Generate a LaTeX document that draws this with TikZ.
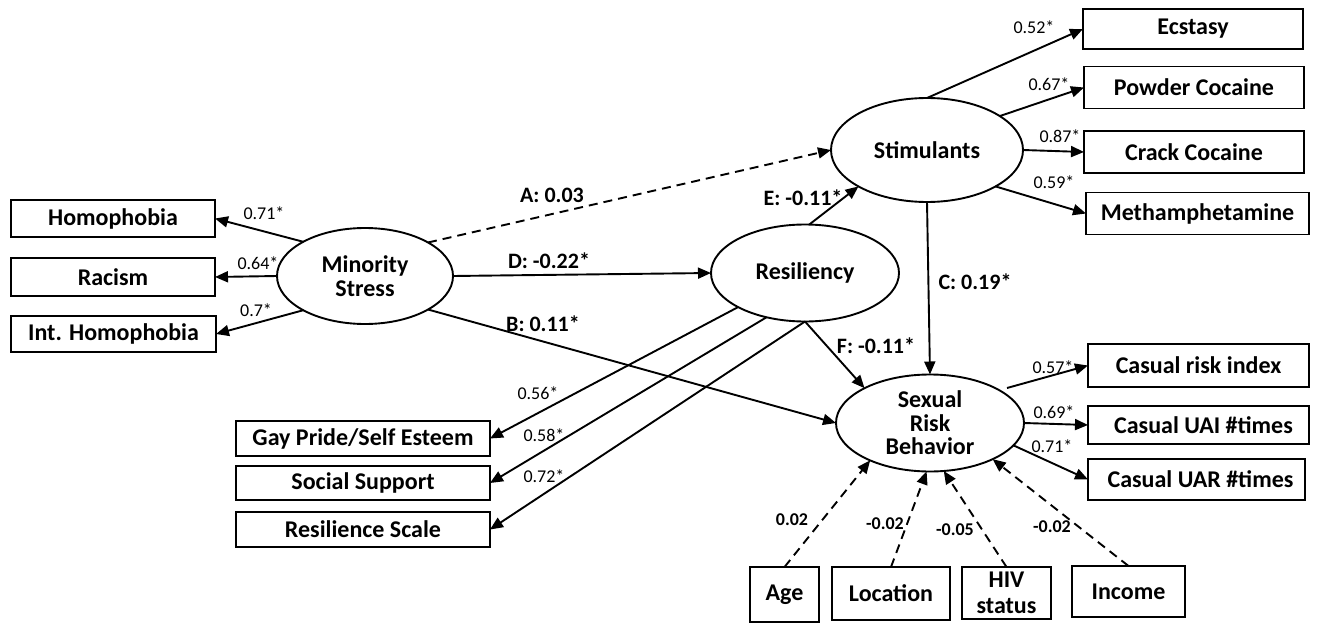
\documentclass[tikz,border=0pt]{standalone}
\usepackage{fontspec}
\setmainfont{Carlito}
\usetikzlibrary{shapes.geometric,arrows.meta}
\begin{document}
\begin{tikzpicture}[x=1pt,y=-1pt,
  every node/.style={inner sep=0pt, outer sep=0pt},
  box/.style={draw, line width=1.9pt, font=\fontsize{24}{25}\selectfont\bfseries, minimum height=38pt, align=center},
  lat/.style={ellipse, draw, line width=1.9pt, font=\fontsize{24}{23.5}\selectfont\bfseries, align=center},
  coef/.style={font=\fontsize{18}{18}\selectfont},
  plab/.style={font=\fontsize{22}{22}\selectfont\bfseries},
  clab/.style={font=\fontsize{18}{18}\selectfont\bfseries},
  arr/.style={line width=1.9pt, -{Triangle[length=13pt,width=11pt]}},
  darr/.style={arr, dash pattern=on 9pt off 6pt},
]
\useasboundingbox (0,0) rectangle (1319,623);

% latent variables
\node[lat, minimum width=176pt, minimum height=96pt] (ms) at (365,276) {Minority\\Stress};
\node[lat, minimum width=192pt, minimum height=104pt] (stim) at (927,150) {Stimulants};
\node[lat, minimum width=188pt, minimum height=97pt] (res) at (805,273) {Resiliency};
\node[lat, minimum width=188pt, minimum height=97pt] (srb) at (930,423) {Sexual\\Risk\\Behavior};

% left indicators
\node[box, minimum width=204pt, minimum height=37pt] (homo) at (113,218.5) {Homophobia};
\node[box, minimum width=204pt] (racism) at (113,277) {Racism};
\node[box, minimum width=205pt, minimum height=36pt] (inthomo) at (113.5,334) {Int. Homophobia};

% stimulant indicators
\node[box, minimum width=220pt, minimum height=40pt] (ecstasy) at (1193,29) {Ecstasy};
\node[box, minimum width=220pt, minimum height=42pt] (powder) at (1194,87.5) {Powder Cocaine};
\node[box, minimum width=220pt, minimum height=42pt] (crack) at (1194,152) {Crack Cocaine};
\node[box, minimum width=223pt, minimum height=42pt] (meth) at (1197.5,213.5) {Methamphetamine};

% resiliency indicators
\node[box, minimum width=254pt, minimum height=35pt] (gay) at (363,438.5) {Gay Pride/Self Esteem};
\node[box, minimum width=254pt, minimum height=34pt] (social) at (363,483) {Social Support};
\node[box, minimum width=254pt, minimum height=35pt] (rscale) at (363,529.5) {Resilience Scale};

% sexual risk indicators
\node[box, minimum width=221pt, minimum height=43pt] (cri) at (1198.5,365.5) {Casual risk index};
\node[box, minimum width=221pt, minimum height=38pt] (uai) at (1198.5,425) {\hspace{10pt}Casual UAI \#times};
\node[box, minimum width=217pt, minimum height=41pt] (uar) at (1196.5,479.5) {\hspace{8pt}Casual UAR \#times};

% covariates
\node[box, minimum width=69pt, minimum height=55pt] (age) at (784.5,594.5) {Age};
\node[box, minimum width=118pt, minimum height=53pt] (loc) at (891,593.5) {Location};
\node[box, minimum width=89pt, minimum height=52pt, font=\fontsize{24}{26}\selectfont\bfseries] (hiv) at (1006.5,593) {HIV\\status};
\node[box, minimum width=113pt, minimum height=51pt] (income) at (1128.5,591.5) {Income};

% minority stress loadings
\draw[arr] (ms.151) -- (homo.east);
\draw[arr] (ms.west) -- (racism.east);
\draw[arr] (ms.209) -- (inthomo.east);
\node[coef] (l1) at (264,213) {0.71*};
\node[coef] (l2) at (258,263) {0.64*};
\node[coef] (l3) at (256,310) {0.7*};

% stimulants loadings
\draw[arr] (stim.north) -- (ecstasy.west);
\draw[arr] (stim.25.6) -- (powder.west);
\draw[arr] (stim.east) -- (crack.west);
\draw[arr] (stim.-28) -- (meth.west);
\node[coef] (l4) at (1034,27) {0.52*};
\node[coef] (l5) at (1049,84) {0.67*};
\node[coef] (l6) at (1060,136) {0.87*};
\node[coef] (l7) at (1054,182) {0.59*};

% resiliency loadings
\draw[arr] (res.207) -- (gay.east);
\draw[arr] (res.229) -- (social.east);
\draw[arr] (res.south) -- (rscale.east);
\node[coef] (l8) at (538,393) {0.56*};
\node[coef] (l9) at (544,435) {0.58*};
\node[coef] (l10) at (544,476) {0.72*};

% sexual risk loadings
\coordinate (criS) at (1007,388);
\draw[arr] (criS) -- (cri.west);
\draw[arr] (srb.east) -- (uai.west);
\draw[arr] (srb.-15) -- (uar.west);
\node[coef] (l11) at (1053,367) {0.57*};
\node[coef] (l12) at (1054,412) {0.69*};
\node[coef] (l13) at (1052,446) {0.71*};

% structural paths
\draw[darr] (ms.28.4) -- (stim.west);
\draw[arr] (ms.east) -- (res.west);
\draw[arr] (ms.-28) -- (srb.west);
\draw[arr] (res.85) -- (stim.208.5);
\draw[arr] (stim.south) -- (srb.north);
\draw[arr] (res.south) -- (srb.152);
\node[plab] (pa) at (552,195) {A: 0.03};
\node[plab] (pd) at (549,261) {D: -0.22*};
\node[plab] (pb) at (543,324) {B: 0.11*};
\node[plab] (pe) at (803,198) {E: -0.11*};
\node[plab] (pc) at (975,282) {C: 0.19*};
\node[plab] (pf) at (876,346) {F: -0.11*};

% covariates
\draw[darr] (age.north) -- (srb.212);
\draw[darr] (loc.north) -- (srb.266);
\draw[darr] (hiv.north) -- (srb.286);
\draw[darr] (income.north) -- (srb.330);
\node[clab] (c1) at (792,520) {0.02};
\node[clab] (c2) at (885,524) {-0.02};
\node[clab] (c3) at (955,530) {-0.05};
\node[clab] (c4) at (1052,527) {-0.02};
\end{tikzpicture}
\end{document}
